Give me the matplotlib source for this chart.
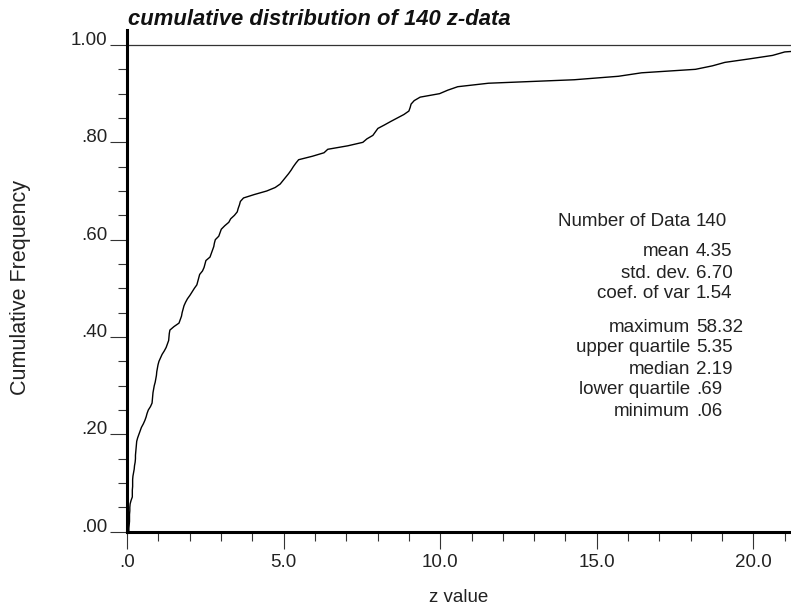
import numpy as np
import matplotlib.pyplot as plt
from matplotlib.ticker import MultipleLocator, FixedLocator

plt.rcParams['font.family'] = ['Liberation Sans', 'DejaVu Sans']

# sorted z values (140 data, last two are off the chart)
z_sorted = [
    0.06, 0.07, 0.08, 0.08, 0.08, 0.09, 0.09, 0.10, 0.13, 0.17,
    0.17, 0.17, 0.18, 0.18, 0.18, 0.19, 0.21, 0.23, 0.24, 0.26,
    0.27, 0.27, 0.28, 0.29, 0.30, 0.31, 0.34, 0.38, 0.42, 0.46,
    0.52, 0.57, 0.61, 0.64, 0.68, 0.75, 0.80, 0.81, 0.82, 0.83,
    0.85, 0.87, 0.90, 0.92, 0.94, 0.95, 0.97, 0.99, 1.02, 1.07,
    1.12, 1.19, 1.25, 1.29, 1.33, 1.34, 1.35, 1.37, 1.50, 1.66,
    1.70, 1.74, 1.76, 1.79, 1.82, 1.87, 1.93, 2.01, 2.08, 2.15,
    2.23, 2.26, 2.29, 2.32, 2.41, 2.46, 2.49, 2.52, 2.65, 2.69,
    2.73, 2.77, 2.79, 2.82, 2.93, 2.97, 3.01, 3.12, 3.25, 3.31,
    3.43, 3.52, 3.55, 3.59, 3.62, 3.72, 4.07, 4.46, 4.73, 4.89,
    4.98, 5.07, 5.16, 5.24, 5.31, 5.39, 5.48, 5.92, 6.29, 6.41,
    7.05, 7.53, 7.66, 7.85, 7.93, 8.01, 8.22, 8.42, 8.63, 8.84,
    9.00, 9.04, 9.07, 9.17, 9.36, 9.98, 10.24, 10.56, 11.54, 14.28,
    15.69, 16.43, 18.15, 18.69, 19.09, 19.87, 20.61, 21.00, 22.50, 58.32,
]

stat_names = ['Number of Data', 'mean', 'std. dev.', 'coef. of var',
              'maximum', 'upper quartile', 'median', 'lower quartile', 'minimum']
stat_values = ['140', '4.35', '6.70', '1.54', '58.32', '5.35', '2.19', '.69', '.06']
stat_rows_px = [221, 252, 273, 294, 327, 348, 369, 390, 411]

y_ticks = [0.0, 0.2, 0.4, 0.6, 0.8, 1.0]
y_ticklabels = ['.00', '.20', '.40', '.60', '.80', '1.00']
x_ticks = [0, 5, 10, 15, 20]
x_ticklabels = ['.0', '5.0', '10.0', '15.0', '20.0']

W, H = 791, 611
fig = plt.figure(figsize=(W / 100, H / 100), dpi=100)
ax = fig.add_axes([127 / W, 1 - 531.7 / H, (W - 127) / W, (531.7 - 29.9) / H])

z = np.array(z_sorted)
n = len(z)
cf = np.arange(1, n + 1) / n
ax.plot(np.r_[z[0], z], np.r_[0, cf], color='black', lw=1.0)
ax.axhline(1.0, color='#333333', lw=0.9)

ax.set_xlim(0, 21.2)
ax.set_ylim(0, 1.031)

for s in ['top', 'right']:
    ax.spines[s].set_visible(False)
for s in ['left', 'bottom']:
    ax.spines[s].set_linewidth(2.2)
    ax.spines[s].set_color('black')

ax.yaxis.set_major_locator(FixedLocator(y_ticks))
ax.set_yticklabels(y_ticklabels)
ax.yaxis.set_minor_locator(MultipleLocator(0.05))
ax.xaxis.set_major_locator(FixedLocator(x_ticks))
ax.set_xticklabels(x_ticklabels)
ax.xaxis.set_minor_locator(MultipleLocator(1.0))

ax.tick_params(which='major', length=12, width=0.8, color='#333333',
               labelsize=13.5, labelcolor='#222222')
ax.tick_params(which='minor', length=6.5, width=0.8, color='#333333')
ax.tick_params(axis='y', which='major', pad=2)
ax.tick_params(axis='x', which='major', pad=4)
# y labels sit on their tick line
for lab in ax.get_yticklabels():
    lab.set_verticalalignment('baseline')

fig.text(128 / W, 1 - 25 / H, 'cumulative distribution of 140 z-data',
         fontsize=15.8, fontweight='bold', fontstyle='italic',
         ha='left', va='baseline', color='#111111')
fig.text(21 / W, 1 - 288 / H, 'Cumulative Frequency', rotation=90,
         fontsize=15.5, ha='center', va='center', color='#222222')
fig.text(459 / W, 1 - 597 / H, 'z value',
         fontsize=13.5, ha='center', va='center', color='#222222')

for name, val, ypx in zip(stat_names, stat_values, stat_rows_px):
    fig.text(690 / W, 1 - ypx / H, name, fontsize=13.5,
             ha='right', va='center', color='#222222')
    fig.text(696 / W, 1 - ypx / H, val, fontsize=13.5,
             ha='left', va='center', color='#222222')

fig.savefig('out.png', dpi=100)
